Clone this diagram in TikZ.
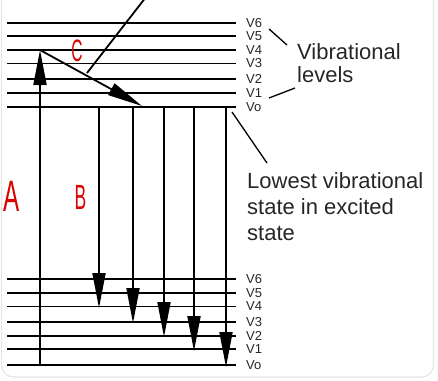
\documentclass[tikz,border=0pt]{standalone}
\usepackage{fontspec}
\setmainfont{Liberation Sans}
\usetikzlibrary{arrows.meta}
\tikzset{
  level/.style={line width=1.8pt},
  jump/.style={line width=1.8pt, -{Triangle[length=35pt,width=13pt]}},
  vlbl/.style={anchor=west, inner sep=0pt, text=black!85, font=\fontsize{13}{13}\selectfont},
  note/.style={anchor=north west, inner sep=0pt, align=left, text=black!85},
  pointer/.style={line width=1.3pt},
  hand/.style={text=red!85!black, inner sep=0pt, xscale=0.5}
}

\begin{document}
\begin{tikzpicture}[x=1pt, y=-1pt]
  \useasboundingbox (0,0) rectangle (438,380);
  \draw[gray!20, line width=1.2pt, rounded corners=12pt] (1.5,-15) rectangle (433.5,377);

  % upper levels
  \foreach \n/\y in {6/22.7, 5/36, 4/50, 3/63.5, 2/79, 1/93, o/107} {
    \coordinate (ua\n) at (7,\y);
    \coordinate (ub\n) at (236,\y);
    \node[vlbl] (uv\n) at (246,\y) {V\n};
    \draw[level] (ua\n) -- (ub\n);
  }
  % lower levels
  \foreach \n/\y in {6/279, 5/293, 4/306.5, 3/322, 2/336, 1/349, o/365} {
    \coordinate (la\n) at (7,\y);
    \coordinate (lb\n) at (236,\y);
    \node[vlbl] (lv\n) at (246,\y) {V\n};
    \draw[level] (la\n) -- (lb\n);
  }

  \coordinate (a0) at (40,365);
  \coordinate (a1) at (40,50);
  \coordinate (c1) at (142,106);
  \draw[jump] (a0) -- (a1);
  \draw[jump] (a1) -- (c1);

  \foreach \x/\y [count=\i] in {99/308, 133/323, 164/337, 194/351, 226/367} {
    \coordinate (bs\i) at (\x,107);
    \coordinate (be\i) at (\x,\y);
    \draw[jump] (bs\i) -- (be\i);
  }

  \coordinate (ptop) at (146,-3);
  \coordinate (pend) at (87,73);
  \draw[line width=1.8pt] (ptop) -- (pend);

  \node[note, font=\fontsize{22}{23}\selectfont] (vib) at (297,43) {Vibrational\\levels};
  \node[note, font=\fontsize{22}{26}\selectfont] (low) at (247,172) {Lowest vibrational\\state in excited\\state};

  \coordinate (p1) at (269,29);
  \coordinate (p2) at (287,45);
  \coordinate (p3) at (269,98);
  \coordinate (p4) at (295,88);
  \coordinate (p5) at (232,112);
  \coordinate (p6) at (267,163);
  \draw[pointer] (p1) -- (p2);
  \draw[pointer] (p3) -- (p4);
  \draw[pointer] (p5) -- (p6);

  \node[hand, font=\fontsize{44}{44}\selectfont, xscale=1.1] (lA) at (11.5,196) {A};
  \node[hand, font=\fontsize{35}{35}\selectfont] (lB) at (80.5,197.5) {B};
  \node[hand, font=\fontsize{31}{31}\selectfont] (lC) at (77,51) {C};
\end{tikzpicture}
\end{document}
